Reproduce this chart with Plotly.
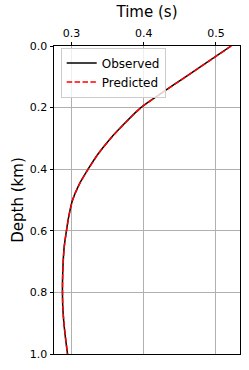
import plotly.graph_objects as go

depth = [0.0, 0.05, 0.10, 0.15, 0.20, 0.25, 0.30, 0.35, 0.40, 0.45, 0.50,
         0.55, 0.60, 0.65, 0.70, 0.75, 0.80, 0.85, 0.90, 0.95, 1.00]
time_observed = [0.5210, 0.4895, 0.4580, 0.4265, 0.3960, 0.3740, 0.3540, 0.3370,
                 0.3230, 0.3105, 0.3015, 0.2965, 0.2930, 0.2900, 0.2885, 0.2877,
                 0.2875, 0.2880, 0.2895, 0.2918, 0.2945]
time_predicted = [0.5213, 0.4898, 0.4583, 0.4268, 0.3963, 0.3743, 0.3543, 0.3372,
                  0.3232, 0.3107, 0.3016, 0.2966, 0.2931, 0.2901, 0.2886, 0.2878,
                  0.2876, 0.2881, 0.2896, 0.2919, 0.2946]
x_ticks = [0.3, 0.4, 0.5]
y_ticks = [0.0, 0.2, 0.4, 0.6, 0.8, 1.0]

font = "DejaVu Sans"

fig = go.Figure()
fig.add_trace(go.Scatter(x=time_observed, y=depth, mode="lines", name="Observed",
                         line=dict(color="black", width=1.5, shape="spline", smoothing=0.7)))
fig.add_trace(go.Scatter(x=time_predicted, y=depth, mode="lines", name="Predicted",
                         line=dict(color="red", width=1.5, dash="5.5px,2.4px",
                                   shape="spline", smoothing=0.7)))

fig.update_layout(
    width=249, height=370,
    margin=dict(l=54, r=8.5, t=46, b=16, autoexpand=False),
    paper_bgcolor="white", plot_bgcolor="white",
    font=dict(family=font, color="black", size=11),
    showlegend=True,
    legend=dict(x=0.036, y=0.995, xanchor="left", yanchor="top",
                bgcolor="rgba(255,255,255,0.8)", bordercolor="#cccccc", borderwidth=1,
                font=dict(size=12, family=font), tracegroupgap=0, itemwidth=30),
    xaxis=dict(side="top", range=[0.2758, 0.5333], tickvals=x_ticks,
               ticktext=[f"{v:.1f}" for v in x_ticks], automargin=False,
               title=dict(text="Time (s)", font=dict(size=15, family=font), standoff=5),
               showgrid=True, gridcolor="#b0b0b0", gridwidth=0.8,
               showline=True, linecolor="black", linewidth=1, mirror=True,
               ticks="outside", ticklen=3.5, tickcolor="black", zeroline=False,
               tickfont=dict(size=11)),
    yaxis=dict(range=[1.0, 0.0], tickvals=y_ticks,
               ticktext=[f"{v:.1f}" for v in y_ticks], automargin=False,
               title=dict(text="Depth (km)", font=dict(size=15, family=font), standoff=2),
               showgrid=True, gridcolor="#b0b0b0", gridwidth=0.8,
               showline=True, linecolor="black", linewidth=1, mirror=True,
               ticks="outside", ticklen=3.5, tickcolor="black", zeroline=False,
               tickfont=dict(size=11)),
)

fig.write_html("out.html", config={"displayModeBar": False},
               post_script="document.body.style.margin='0';document.body.style.padding='0';")
